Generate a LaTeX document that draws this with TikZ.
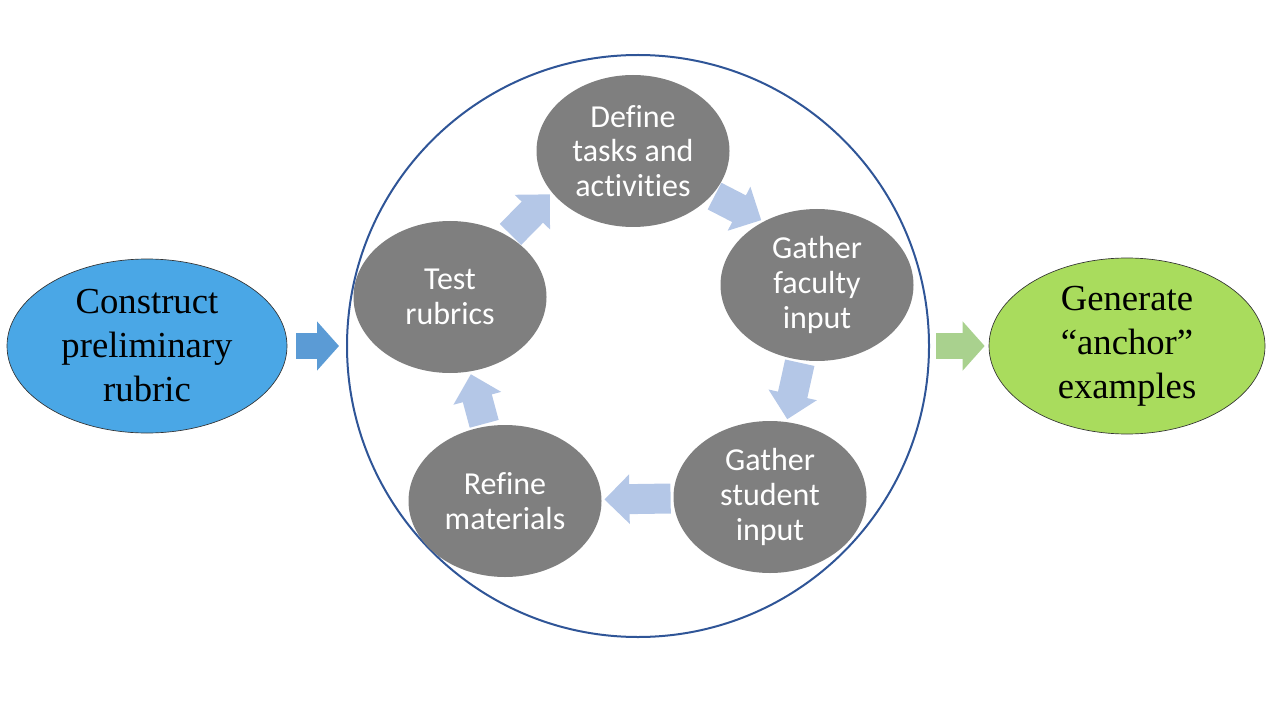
\documentclass[tikz,border=0pt]{standalone}
\usepackage{fontspec}
\setmainfont{Liberation Serif}
\newfontfamily\calibrifont[Ligatures=NoCommon]{Carlito}
\usetikzlibrary{shapes,arrows.meta,positioning}

\definecolor{skyfill}{HTML}{4AA7E6}
\definecolor{limefill}{HTML}{A9DC5D}
\definecolor{stepgray}{HTML}{7F7F7F}
\definecolor{ringblue}{HTML}{2F5597}
\definecolor{paleblue}{HTML}{B4C7E7}
\definecolor{midblue}{HTML}{5B9BD5}
\definecolor{softgreen}{HTML}{A9D18E}

\tikzset{
  outer/.style={ellipse, draw=black!80, line width=0.5pt, inner sep=0pt, align=center,
    font=\fontsize{27.5}{33}\selectfont},
  stepnode/.style={ellipse, fill=stepgray, minimum width=144.75pt, minimum height=114pt,
    inner sep=0pt, align=center, text=white, font=\calibrifont\fontsize{24}{26}\selectfont},
  cyclearrow/.style={draw=paleblue, line width=22.5pt,
    -{Triangle[length=18.75pt, width=36pt]}, shorten <=2pt, shorten >=2pt},
  sidearrow/.style={line width=19.5pt, -{Triangle[length=16.5pt, width=36pt]}}
}

\begin{document}
\begin{tikzpicture}[x=0.75pt, y=-0.75pt]
    \useasboundingbox (0,0) rectangle (1280,720);

    % Outer ring and the two end nodes
    \node[circle, draw=ringblue, line width=1.5pt, minimum size=436.5pt] (loop) at (638,346) {};
    \node[outer, fill=skyfill, minimum width=210pt, minimum height=130.5pt] (construct) at (147,346) {Construct\\preliminary\\rubric};
    \node[outer, fill=limefill, minimum width=207pt, minimum height=132pt] (generate) at (1127,346) {Generate\\``anchor''\\examples};

    % Steps of the cycle
    \node[stepnode] (define) at (633,151) {Define\\tasks and\\activities};
    \node[stepnode] (faculty) at (817,285) {Gather\\faculty\\input};
    \node[stepnode] (student) at (770,497) {Gather\\student\\input};
    \node[stepnode] (refine) at (505,501) {Refine\\materials};
    \node[stepnode] (test) at (450,297) {Test\\rubrics};

    % Cycle arrows
    \draw[cyclearrow] (test.46) -- (define.207);
    \draw[cyclearrow] (define.-29) -- (faculty.130);
    \draw[cyclearrow] (faculty) -- (student);
    \draw[cyclearrow] (student) -- (refine);
    \draw[cyclearrow] (refine) -- (test);

    % In and out
    \draw[sidearrow, draw=midblue, shorten <=6.75pt, shorten >=5.25pt] (construct) -- (loop);
    \draw[sidearrow, draw=softgreen, shorten <=4.5pt, shorten >=3pt] (loop) -- (generate);
\end{tikzpicture}
\end{document}
